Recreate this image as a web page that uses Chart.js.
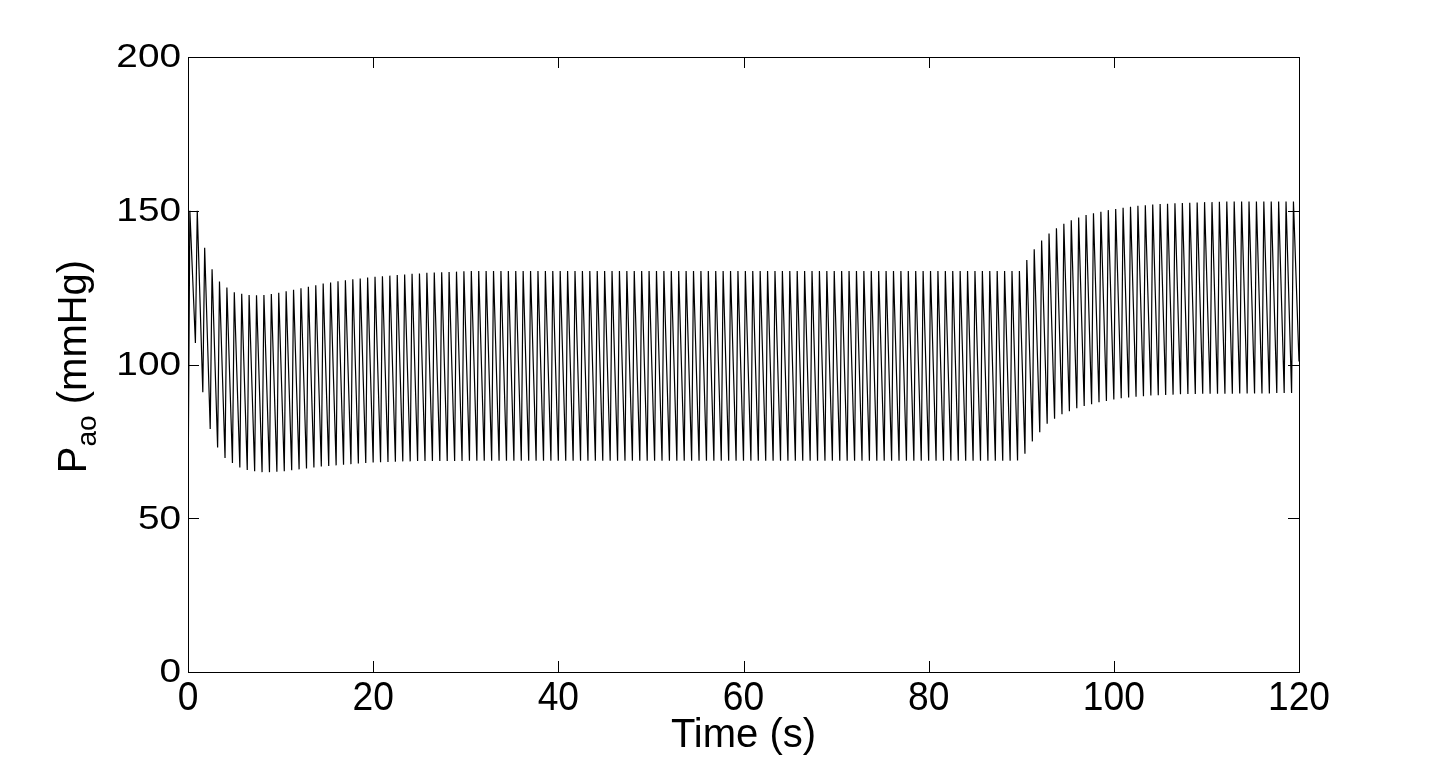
<!DOCTYPE html>
<html lang="en">
<head>
    <meta charset="UTF-8">
    <title>Aortic pressure</title>
    <script src="https://cdn.jsdelivr.net/npm/chart.js@4.4.0/dist/chart.umd.min.js"></script>
    <style>
        html, body { margin: 0; padding: 0; background: #fff; }
        #wrap { width: 1435px; height: 760px; }
    </style>
</head>
<body>
<div id="wrap"><canvas id="chart" width="1435" height="760"></canvas></div>

<script>
// ---- data ----
const xTickValues = [0, 20, 40, 60, 80, 100, 120];
const xTickLabels = ['0', '20', '40', '60', '80', '100', '120'];
const yTickValues = [0, 50, 100, 150, 200];
const yTickLabels = ['0', '50', '100', '150', '200'];

// one beat every 0.8 s, systolic peak 0.2 s after the diastolic trough
const beatPeriod = 0.8;
const upstroke = 0.2;

// diastolic minimum of each beat (mmHg)
const troughs = [
    55, 107, 91, 79, 73, 69.6, 68, 66.5, 65.7, 65.3,
    65, 65, 65.1, 65.3, 65.6, 65.9, 66.2, 66.5, 66.8, 67,
    67.2, 67.4, 67.6, 67.8, 68, 68.1, 68.2, 68.3, 68.4, 68.5,
    68.5, 68.6, 68.6, 68.6, 68.6, 68.6, 68.6, 68.6, 68.7, 68.7,
    68.7, 68.7, 68.7, 68.7, 68.7, 68.7, 68.7, 68.7, 68.7, 68.7,
    68.7, 68.7, 68.7, 68.7, 68.7, 68.7, 68.7, 68.7, 68.7, 68.7,
    68.7, 68.7, 68.7, 68.7, 68.7, 68.7, 68.7, 68.7, 68.7, 68.7,
    68.7, 68.7, 68.7, 68.7, 68.7, 68.7, 68.7, 68.7, 68.7, 68.7,
    68.7, 68.7, 68.7, 68.7, 68.7, 68.7, 68.7, 68.7, 68.7, 68.7,
    68.7, 68.7, 68.7, 68.7, 68.7, 68.7, 68.7, 68.7, 68.7, 68.7,
    68.7, 68.7, 68.7, 68.7, 68.7, 68.7, 68.7, 68.7, 68.7, 68.7,
    68.7, 68.7, 68.8, 71, 75, 78, 80.7, 82.4, 83.8, 84.8,
    85.8, 86.5, 87.1, 87.7, 88.1, 88.6, 89, 89.3, 89.5, 89.7,
    89.9, 90, 90.1, 90.2, 90.3, 90.4, 90.4, 90.5, 90.5, 90.5,
    90.5, 90.5, 90.6, 90.6, 90.6, 90.6, 90.6, 90.7, 90.7, 90.7
];

// systolic maximum of each beat (mmHg)
const peaks = [
    150, 150, 138, 131, 127, 125, 123.5, 123, 122.6, 122.5,
    122.6, 122.9, 123.3, 123.8, 124.3, 124.8, 125.3, 125.8, 126.3, 126.7,
    127.1, 127.4, 127.7, 128, 128.3, 128.5, 128.7, 128.9, 129.1, 129.3,
    129.5, 129.6, 129.8, 129.9, 130, 130.1, 130.2, 130.3, 130.4, 130.4,
    130.4, 130.4, 130.4, 130.4, 130.4, 130.4, 130.4, 130.4, 130.4, 130.4,
    130.4, 130.4, 130.4, 130.4, 130.4, 130.4, 130.4, 130.4, 130.4, 130.4,
    130.4, 130.4, 130.4, 130.4, 130.4, 130.4, 130.4, 130.4, 130.4, 130.4,
    130.4, 130.4, 130.4, 130.4, 130.4, 130.4, 130.4, 130.4, 130.4, 130.4,
    130.4, 130.4, 130.4, 130.4, 130.4, 130.4, 130.4, 130.4, 130.4, 130.4,
    130.4, 130.4, 130.4, 130.4, 130.4, 130.4, 130.4, 130.4, 130.4, 130.4,
    130.4, 130.4, 130.4, 130.4, 130.4, 130.4, 130.4, 130.4, 130.4, 130.4,
    130.4, 130.4, 130.4, 134, 137.5, 140.3, 142.6, 144.3, 145.8, 146.9,
    147.8, 148.6, 149.2, 149.7, 150.2, 150.6, 151, 151.3, 151.6, 151.8,
    152, 152.2, 152.3, 152.4, 152.5, 152.6, 152.7, 152.8, 152.8, 152.9,
    153, 153, 153, 153, 153, 153, 153, 153, 153, 153
];

const endTime = 120;
const endValue = 101;

// trough / peak points in time order
const points = [];
for (let k = 0; k < peaks.length; k++) {
    points.push({ x: k * beatPeriod, y: troughs[k] });
    points.push({ x: k * beatPeriod + upstroke, y: peaks[k] });
}
points.push({ x: endTime, y: endValue });

const FONT = '"Liberation Sans", Arial, Helvetica, sans-serif';

// text with a horizontal stretch, the original labels are not square
function stretchText(ctx, txt, x, y, sx) {
    ctx.save();
    ctx.translate(x, y);
    ctx.scale(sx, 1);
    ctx.fillText(txt, 0, 0);
    ctx.restore();
}

// MATLAB style frame: box, inward ticks, labels
const matlabAxes = {
    id: 'matlabAxes',
    afterDraw(chart) {
        const ctx = chart.ctx;
        const a = chart.chartArea;
        const xs = chart.scales.x, ys = chart.scales.y;
        const tl = 11;
        ctx.save();
        ctx.strokeStyle = '#000';
        ctx.lineWidth = 1;
        ctx.strokeRect(Math.round(a.left) + 0.5, Math.round(a.top) + 0.5,
            Math.round(a.right - a.left), Math.round(a.bottom - a.top));

        ctx.beginPath();
        xTickValues.forEach(v => {
            const px = Math.round(xs.getPixelForValue(v)) + 0.5;
            ctx.moveTo(px, a.bottom); ctx.lineTo(px, a.bottom - tl);
            ctx.moveTo(px, a.top); ctx.lineTo(px, a.top + tl);
        });
        yTickValues.forEach(v => {
            const py = Math.round(ys.getPixelForValue(v)) + 0.5;
            ctx.moveTo(a.left, py); ctx.lineTo(a.left + tl, py);
            ctx.moveTo(a.right, py); ctx.lineTo(a.right - tl, py);
        });
        ctx.stroke();

        ctx.fillStyle = '#000';
        // y tick labels: short and wide
        ctx.font = '34px ' + FONT;
        ctx.textAlign = 'right';
        ctx.textBaseline = 'middle';
        yTickValues.forEach((v, i) => {
            stretchText(ctx, yTickLabels[i], a.left - 7, ys.getPixelForValue(v) + 1, 1.14);
        });
        // x tick labels: tall and narrow
        ctx.font = '40px ' + FONT;
        ctx.textAlign = 'center';
        ctx.textBaseline = 'top';
        xTickValues.forEach((v, i) => {
            stretchText(ctx, xTickLabels[i], xs.getPixelForValue(v), a.bottom + 7, 0.93);
        });

        // x title
        ctx.font = '40px ' + FONT;
        ctx.fillText('Time (s)', (a.left + a.right) / 2, a.bottom + 44);

        // y title with subscript
        ctx.translate(86, (a.top + a.bottom) / 2 + 2);
        ctx.rotate(-Math.PI / 2);
        ctx.textAlign = 'left';
        ctx.textBaseline = 'alphabetic';
        ctx.font = '40px ' + FONT;
        const wP = ctx.measureText('P').width;
        ctx.font = '28px ' + FONT;
        const wSub = ctx.measureText('ao').width;
        ctx.font = '40px ' + FONT;
        const wRest = ctx.measureText(' (mmHg)').width;
        let x0 = -(wP + wSub + wRest) / 2;
        ctx.fillText('P', x0, 0);
        ctx.font = '28px ' + FONT;
        ctx.fillText('ao', x0 + wP, 10);
        ctx.font = '40px ' + FONT;
        ctx.fillText(' (mmHg)', x0 + wP + wSub, 0);
        ctx.restore();
    }
};

new Chart(document.getElementById('chart'), {
    type: 'line',
    data: {
        datasets: [{
            data: points,
            borderColor: '#000',
            borderWidth: 1.2,
            pointRadius: 0,
            tension: 0,
            fill: false
        }]
    },
    options: {
        responsive: false,
        animation: false,
        devicePixelRatio: 1,
        layout: { padding: { left: 0, top: 57, right: 136, bottom: 0 } },
        plugins: { legend: { display: false }, tooltip: { enabled: false } },
        scales: {
            x: {
                type: 'linear', min: 0, max: 120,
                grid: { display: false }, border: { display: false },
                ticks: { display: false },
                afterFit(s) { s.height = 88; }
            },
            y: {
                type: 'linear', min: 0, max: 200,
                grid: { display: false }, border: { display: false },
                ticks: { display: false },
                afterFit(s) { s.width = 188; }
            }
        }
    },
    plugins: [matlabAxes]
});
</script>
</body>
</html>
